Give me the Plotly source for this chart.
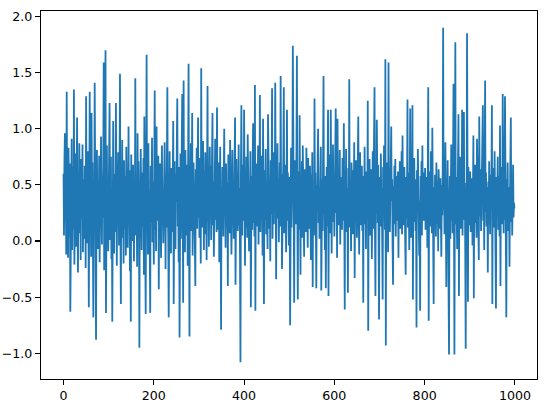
import plotly.graph_objects as go

values = [
    0.60, 0.05, 0.72, 0.96, 0.18, 0.41, -0.12, 1.33, 0.27, 0.58, -0.15, 0.83, 0.36, 0.04, 0.69, -0.63, 0.47, 0.22, 0.91, -0.08,
    0.39, 0.66, 0.11, 1.35, -0.21, 0.52, 0.30, 0.78, -0.05, 0.44, 1.10, 0.15, -0.28, 0.61, 0.25, 0.87, 0.07, 0.49, -0.17, 0.73,
    0.20, 0.38, 0.86, -0.10, 0.55, 0.31, 0.02, 0.67, 0.43, -0.24, 1.29, 0.16, 0.59, -0.02, 0.80, 0.26, -0.59, 0.48, 1.33, 0.09,
    0.57, -0.14, 1.14, 0.33, 0.70, 0.12, -0.68, 0.45, 0.24, 1.41, 0.06, 0.62, -0.88, 0.37, 0.81, 0.19, -0.07, 0.53, 0.29, 0.76,
    -0.19, 0.42, 0.13, 0.93, 0.34, -0.03, 0.58, 0.21, 0.68, 1.59, -0.26, 0.47, 0.10, 1.70, -0.64, 0.39, 0.85, 0.17, 0.54, -0.09,
    0.64, 0.28, 1.23, 0.01, 0.46, 0.75, -0.16, 0.35, -0.72, 0.52, 1.07, 0.23, -0.11, 0.60, 0.40, 0.08, 1.23, 0.31, -0.22, 0.56,
    0.18, 0.79, 0.36, -0.04, 0.51, 1.49, 0.14, -0.56, 0.66, 0.27, 0.90, 0.03, 0.44, -0.20, 0.72, 0.32, 0.11, 0.58, -0.13, 0.84,
    0.25, 0.49, -0.06, 0.37, 1.02, 0.15, 0.63, -0.27, 0.41, -0.72, 0.77, 0.22, 0.54, 0.00, 0.68, 0.30, -0.18, 0.46, 0.12, 1.45,
    0.05, 0.57, 0.34, -0.23, 0.96, 0.19, 0.71, 0.38, -0.95, 0.50, 0.09, 0.82, 0.26, -0.08, 0.61, 0.42, 0.13, 0.74, -0.30, 1.11,
    0.33, 0.06, -0.65, 0.48, 1.66, 0.20, 0.59, -0.12, 0.87, 0.29, 0.45, 0.04, -0.64, 0.67, 0.35, 0.16, 0.92, -0.01, 0.53, 0.24,
    -0.21, 0.62, 1.34, 0.10, 0.43, -0.09, 1.02, 0.31, 0.55, 0.18, 0.76, -0.43, 0.40, 0.07, 0.69, 0.27, -0.15, 0.51, 0.85, 0.14,
    0.37, -0.02, 0.63, 0.22, 0.88, 0.45, -0.25, 0.58, 0.12, 0.73, 1.37, 0.26, 0.03, -0.68, 0.49, 0.80, 0.17, 0.39, -0.11, 0.65,
    0.30, 0.08, 0.54, 1.07, -0.56, 0.42, 0.71, 0.19, -0.07, 0.60, 0.35, 0.90, 1.27, 0.13, 0.47, -0.19, 0.66, -0.86, 0.28, 0.78,
    0.02, 0.44, 0.23, 1.31, 0.36, -0.55, 1.43, 0.15, 0.57, -0.10, 0.81, 0.32, 0.05, 0.68, 0.40, -0.22, 0.53, 1.58, 0.20, -0.85,
    0.61, 0.25, 0.87, 0.09, 0.46, 1.14, -0.13, 0.38, 0.70, 0.16, 0.52, -0.04, -0.40, 0.64, 0.29, 0.83, 0.11, 0.43, 1.10, 0.21,
    0.56, 0.03, 0.74, 0.34, -0.20, 1.54, 0.27, 0.48, 0.12, 0.89, 0.41, -0.08, 0.62, 0.22, 0.79, 0.06, 0.50, -0.17, 0.33, 1.38,
    0.18, 0.59, -0.05, 0.45, 0.84, 0.24, 0.67, 0.01, 0.37, 0.72, 1.14, 0.14, 0.53, -0.14, 0.43, 0.30, 0.91, 0.19, 0.63, 0.08,
    1.19, 0.27, 0.55, 0.10, 0.70, -0.19, 0.40, 0.84, 0.21, -0.79, 0.48, 0.15, 0.66, 0.32, 0.04, 0.58, 1.00, 0.26, 0.44, -0.06,
    0.69, 0.35, 0.13, 0.52, -0.40, 0.77, 0.23, 0.46, 0.07, 0.90, 0.38, 0.60, -0.12, 0.29, 0.81, 0.17, 0.50, 0.02, 0.64, 0.33,
    1.10, -0.39, 0.42, 0.73, 0.20, 0.56, 0.09, 0.36, 0.86, 0.14, 0.47, -0.16, -1.08, 0.61, 1.21, 0.28, 0.05, 0.68, 0.39, 0.18,
    1.17, 0.31, -0.22, 0.54, 0.12, 0.75, 0.44, 0.03, 0.95, 0.25, 0.62, -0.09, 0.49, 0.37, 0.80, -0.59, 0.21, 0.58, 0.10, 0.71,
    1.05, 0.16, 0.43, 0.04, 1.39, -0.62, 0.51, 0.27, 0.69, 0.13, 0.40, 0.85, -0.03, 0.57, 0.30, 1.30, 0.08, 0.48, 0.22, 0.76,
    0.34, -0.13, 1.09, 0.26, -0.56, 0.63, 0.19, 0.45, 0.82, 0.06, 0.53, 0.29, -0.07, 1.13, 0.38, 0.67, 0.11, 0.47, -0.18, 0.72,
    0.24, 0.58, 1.36, 0.02, 0.41, 0.79, 0.15, 0.50, 0.31, 1.41, 0.09, -0.34, 0.64, 0.36, 0.87, 0.20, 0.55, -0.01, 0.44, 0.70,
    0.13, 1.47, 0.35, 0.60, -0.25, 0.46, 0.22, 0.78, 1.37, 0.07, 0.52, 0.27, 0.68, -0.10, 0.40, 1.17, 0.18, 0.61, 0.32, -0.04,
    0.57, 0.21, -0.75, 0.49, 0.83, 0.12, 0.38, 0.66, 1.74, 0.28, 0.05, -0.55, 0.72, 0.34, 0.47, 0.15, 0.80, 1.65, 0.25, -0.52,
    0.43, 0.62, 0.10, 1.12, 0.37, -0.30, 0.56, 0.19, 0.71, 0.03, 0.85, 0.29, 0.48, -0.14, 0.64, 0.23, 0.41, 0.08, 0.83, 0.32,
    0.54, -0.06, 0.74, 0.26, 0.45, 0.11, 0.67, 0.35, -0.17, 0.59, 0.20, 0.79, -0.41, 0.44, 0.30, 0.05, 1.27, 0.38, 0.61, 0.14,
    -0.42, 0.50, 0.27, 0.73, 1.00, 0.16, 0.47, 0.02, 0.63, 0.36, 0.84, -0.44, 0.31, 0.55, 0.09, 0.70, 1.47, 0.24, 0.42, -0.08,
    0.58, -0.42, 0.33, 0.66, 0.13, 0.45, 1.17, -0.49, 0.52, 0.22, 0.77, 0.07, 1.17, 0.39, -0.11, 0.60, 0.28, 0.86, 0.17, 0.48,
    0.04, 0.35, 0.69, 1.18, 0.25, 0.51, -0.15, 1.09, 0.40, 0.14, 0.62, 0.30, 0.81, -0.03, 0.46, 0.21, 0.57, 0.10, 0.74, 0.36,
    0.18, 1.05, 0.43, -0.61, 0.59, 0.27, 0.82, 0.08, 0.47, 0.33, -0.46, 0.65, 0.20, 1.44, 0.12, 0.53, 0.38, -0.09, 0.70, 0.26,
    0.49, 0.06, 0.63, 0.31, 0.88, -0.33, 0.42, 0.17, 0.72, 0.55, 0.03, 0.37, 0.60, 1.11, 0.23, -0.12, 0.50, 0.79, 0.14, 0.44,
    0.32, 0.67, 0.09, 0.48, -0.55, 0.58, 0.26, 0.84, 0.15, 0.40, -0.07, 0.62, 0.35, 0.19, 1.25, -0.80, 0.54, 0.28, 0.73, 0.05,
    0.46, 0.21, 0.64, -0.16, 0.38, 0.80, 0.11, 0.52, 0.30, 1.37, 0.07, -0.49, 0.59, 0.25, 1.08, 0.41, 0.16, 0.68, -0.04, -0.70,
    0.36, 0.57, 0.13, 0.78, 0.29, 0.47, 0.02, -0.52, 0.66, 0.24, 0.85, 0.39, 0.10, 1.62, -0.93, 0.51, 0.19, 0.70, 0.33, -0.10,
    1.59, 0.27, 0.60, 0.08, 0.44, 0.21, 1.02, 0.36, 0.55, -0.05, -0.39, 0.49, 0.15, 0.67, 0.31, 0.73, 0.04, 0.42, 0.58, 0.18,
    0.37, 0.62, -0.15, 0.45, 0.24, 0.71, 0.11, 0.53, 0.33, 0.80, 0.06, 0.94, 0.28, 0.48, 0.14, 0.66, 0.39, -0.02, -0.30, 0.57,
    0.20, 0.43, 1.26, 0.12, 0.61, 0.29, -0.08, 0.50, 1.18, 0.35, 0.03, 0.69, 0.24, 1.21, -0.52, 0.46, 0.17, 0.74, 0.31, 0.55,
    0.09, 0.40, -0.77, 0.63, 0.26, 0.82, 0.14, 0.49, -0.13, 0.36, -0.62, 0.58, 0.22, 0.71, 0.05, 0.85, 0.30, 0.47, 0.18, 0.61,
    0.27, 0.65, 0.10, 0.44, 0.32, 0.57, -0.06, 0.39, 1.37, -0.71, 0.52, 0.21, 0.62, 0.13, 0.80, 0.34, 0.07, 1.01, 0.45, 0.25,
    -0.56, 0.48, 0.19, 0.59, 0.31, 0.04, 0.70, 0.37, 0.15, 0.53, -0.09, 0.64, 0.26, 0.42, 0.11, 0.56, 0.33, -0.14, 0.50, 0.23,
    0.61, 1.90, 0.28, 0.45, 0.06, 0.67, 0.88, 0.20, -0.41, 0.54, 0.35, 0.72, 0.12, 0.47, -1.01, 0.30, 0.58, 0.02, 0.41, 0.86,
    0.18, 0.51, 0.07, 0.63, 1.40, 0.26, -1.01, 0.44, 1.77, 0.15, 0.57, 0.32, -0.07, 0.69, 0.23, 1.13, -0.49, 0.48, 0.36, 0.75,
    0.11, 0.42, 0.28, 1.17, 0.05, 0.60, 0.34, 1.15, 0.19, 0.52, -0.11, -0.96, 0.46, 0.25, 1.85, 0.39, -0.54, 0.66, 0.14, 0.49,
    0.30, 0.62, 0.08, 0.45, 0.21, 0.56, -0.04, 0.37, 0.94, -0.51, 0.50, 0.16, 0.68, 0.27, 0.43, 0.03, 0.91, 0.33, 0.58, 0.12,
    -0.17, 1.11, 0.38, 0.22, 0.64, 0.09, 0.47, 0.31, 0.76, 1.21, 0.18, 0.55, -0.08, 0.40, 1.43, 0.26, 0.61, 0.13, 0.48, 0.35,
    -0.28, 0.53, 0.20, 0.71, 0.37, 0.06, 0.59, 0.29, 0.44, 1.21, -0.56, 0.65, 0.24, 0.48, 0.12, 0.80, 0.35, 0.01, -0.60, 0.57,
    0.22, 0.46, 0.75, 0.10, 0.58, 0.31, 0.04, 1.03, -0.40, 0.52, 0.27, 0.66, 0.15, 1.31, 0.38, 0.07, 0.60, 0.19, 1.29, 0.42,
    0.13, -0.68, 0.55, 0.26, 0.70, 0.09, 0.48, 0.43, -0.23, 0.36, 0.62, 1.10, 0.17, 0.51, 0.05, 0.40, 0.68, 0.21, 0.34, 0.29,
]
x_values = list(range(len(values)))

x_tick_values = [0, 200, 400, 600, 800, 1000]
x_tick_labels = ["0", "200", "400", "600", "800", "1000"]
y_tick_values = [-1.0, -0.5, 0.0, 0.5, 1.0, 1.5, 2.0]
y_tick_labels = ["\u22121.0", "\u22120.5", "0.0", "0.5", "1.0", "1.5", "2.0"]

xmin, xmax = min(x_values), max(x_values)
ymin, ymax = min(values), max(values)
xpad = 0.05 * (xmax - xmin)
ypad = 0.05 * (ymax - ymin)

fig = go.Figure()
fig.add_trace(go.Scatter(
    x=x_values, y=values, mode="lines",
    line=dict(color="#1f77b4", width=1.8),
    showlegend=False, hoverinfo="skip",
))

axis_common = dict(
    showgrid=False, zeroline=False, showline=True, mirror=True,
    linecolor="black", linewidth=1.1,
    ticks="outside", ticklen=5, tickwidth=1.1, tickcolor="black",
    tickfont=dict(family="DejaVu Sans", size=12.6, color="black"),
    automargin=False,
)

fig.update_layout(
    width=544, height=407,
    margin=dict(l=41, r=7, t=10.5, b=28, pad=0),
    paper_bgcolor="white", plot_bgcolor="white",
    xaxis=dict(range=[xmin - xpad, xmax + xpad], tickvals=x_tick_values,
               ticktext=x_tick_labels, **axis_common),
    yaxis=dict(range=[ymin - ypad, ymax + ypad], tickvals=y_tick_values,
               ticktext=y_tick_labels, **axis_common),
)

# remove the page's default body margin so the figure sits at the window corner
fig.write_html("out.html",
               config={"displayModeBar": False, "staticPlot": True},
               post_script="document.body.style.margin='0';document.body.style.overflow='hidden';")
